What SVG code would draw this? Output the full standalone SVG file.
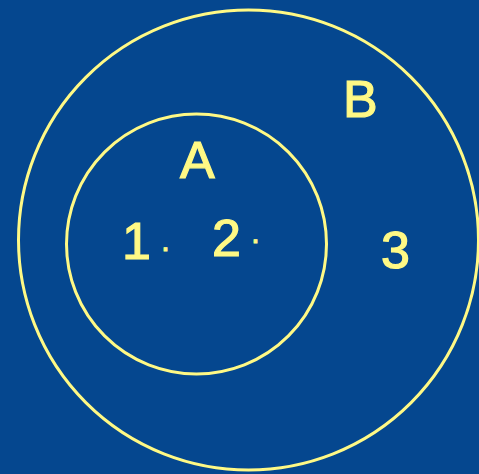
<svg xmlns="http://www.w3.org/2000/svg" width="479" height="474" viewBox="0 0 479 474">
<style>
.c{fill:none;stroke:#FFF985;stroke-width:3}
.t{fill:#FFF985;stroke:#FFF985;stroke-width:1.2;font-family:"Liberation Sans",Arial,sans-serif;font-size:52px}
.d{fill:#FFF985;stroke:#FFF985;stroke-width:0.8;font-family:"Liberation Sans",Arial,sans-serif;font-size:32px}
</style>
<rect width="479" height="474" fill="#05478F"/>
<g id="B"><circle class="c" cx="248.5" cy="240" r="230"/>
<text class="t" x="343" y="117">B</text></g>
<g id="A"><circle class="c" cx="196.5" cy="244" r="130"/>
<text class="t" x="180" y="178">A</text></g>
<g id="e1"><text class="t" x="122" y="259">1</text><text class="d" x="161" y="251">.</text></g>
<g id="e2"><text class="t" x="212" y="256">2</text><text class="d" x="251" y="243">.</text></g>
<g id="e3"><text class="t" x="381" y="268">3</text></g>
</svg>
